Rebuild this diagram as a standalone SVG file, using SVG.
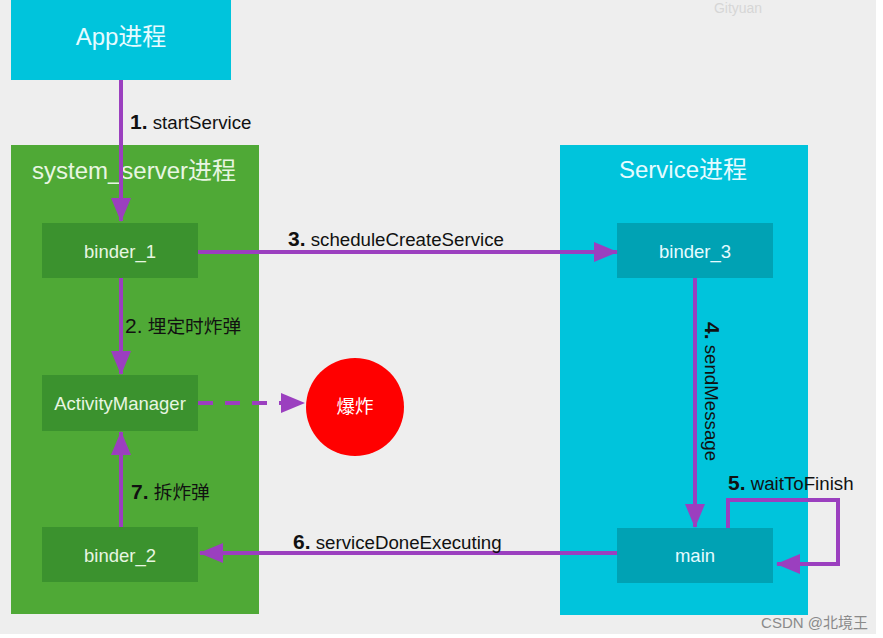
<svg xmlns="http://www.w3.org/2000/svg" width="883" height="638" viewBox="0 0 883 638">
<style>
.lbl{font-family:"Liberation Sans","Noto Sans CJK SC",sans-serif;fill:#111;font-size:18.7px}
.num{font-weight:bold;font-size:21px}
.box{font-family:"Liberation Sans","Noto Sans CJK SC",sans-serif;text-anchor:middle}
.title{font-size:24px}
.node{font-size:18.5px}
.line{stroke:#9b3fbf;stroke-width:4;fill:none}
</style>
<defs>
<marker id="ah" viewBox="0 0 24 20" refX="23" refY="10" markerWidth="24" markerHeight="20" markerUnits="userSpaceOnUse" orient="auto">
<path d="M0,0 L24,10 L0,20 Z" fill="#9b3fbf"/>
</marker>
</defs>
<rect x="0" y="0" width="883" height="638" fill="#ffffff"/>
<rect x="0" y="0" width="876" height="634" fill="#eeeeee"/>
<text x="738" y="13" font-family="Liberation Sans, sans-serif" font-size="14" fill="#d6d6d6" text-anchor="middle">Gityuan</text>

<g id="app">
<rect x="11" y="0" width="220" height="80" fill="#00c4dc"/>
<text class="box title" x="121" y="45" fill="#e6fbff">App进程</text>
</g>
<g id="system_server">
<rect x="11" y="145" width="248" height="469" fill="#4fa936"/>
<text class="box title" x="134" y="179" fill="#e8f6e2">system_server进程</text>
</g>
<g id="service">
<rect x="560" y="145" width="248" height="470" fill="#00c4dc"/>
<text class="box title" x="683" y="178" fill="#e6fbff">Service进程</text>
</g>
<g id="binder_1">
<rect x="42" y="223" width="156" height="55" fill="#3b922e"/>
<text class="box node" x="120" y="258" fill="#e8f6e2">binder_1</text>
</g>
<g id="activity_manager">
<rect x="42" y="375" width="156" height="56" fill="#3b922e"/>
<text class="box node" x="120" y="410" fill="#e8f6e2">ActivityManager</text>
</g>
<g id="binder_2">
<rect x="42" y="527" width="156" height="55" fill="#3b922e"/>
<text class="box node" x="120" y="562" fill="#e8f6e2">binder_2</text>
</g>
<g id="binder_3">
<rect x="617" y="223" width="156" height="55" fill="#00a2b4"/>
<text class="box node" x="695" y="258" fill="#e6fbff">binder_3</text>
</g>
<g id="main">
<rect x="617" y="528" width="156" height="55" fill="#00a2b4"/>
<text class="box node" x="695" y="562" fill="#e6fbff">main</text>
</g>
<g id="explode">
<circle cx="355" cy="407" r="49" fill="#ff0000"/>
<text class="box node" x="355" y="413" fill="#ffffff">爆炸</text>
</g>

<g id="connectors">
<line class="line" x1="121" y1="80" x2="121" y2="221" marker-end="url(#ah)"/>
<line class="line" x1="198" y1="252" x2="617" y2="252" marker-end="url(#ah)"/>
<line class="line" x1="121" y1="278" x2="121" y2="374" marker-end="url(#ah)"/>
<line class="line" x1="198" y1="403" x2="304" y2="403" stroke-dasharray="15,12" marker-end="url(#ah)"/>
<line class="line" x1="121" y1="527" x2="121" y2="432" marker-end="url(#ah)"/>
<line class="line" x1="695" y1="278" x2="695" y2="527" marker-end="url(#ah)"/>
<polyline class="line" points="728,528 728,500 838,500 838,564 777,564" marker-end="url(#ah)"/>
<line class="line" x1="617" y1="553" x2="200" y2="553" marker-end="url(#ah)"/>
</g>

<g id="labels">
<text class="lbl" x="130" y="129"><tspan class="num">1.</tspan> startService</text>
<text class="lbl" x="288" y="246"><tspan class="num">3.</tspan> scheduleCreateService</text>
<text class="lbl" x="125" y="333"><tspan font-size="21">2.</tspan> 埋定时炸弹</text>
<text class="lbl" x="131" y="499"><tspan class="num">7.</tspan> 拆炸弹</text>
<text class="lbl" x="293" y="549"><tspan class="num">6.</tspan> serviceDoneExecuting</text>
<text class="lbl" x="728" y="490"><tspan class="num">5.</tspan> waitToFinish</text>
<text class="lbl" transform="translate(705,322) rotate(90)"><tspan class="num">4.</tspan> sendMessage</text>
</g>
<text x="868" y="628" font-family="Liberation Sans, Noto Sans CJK SC, sans-serif" font-size="15" fill="#8a8a8a" text-anchor="end">CSDN @北境王</text>
</svg>
